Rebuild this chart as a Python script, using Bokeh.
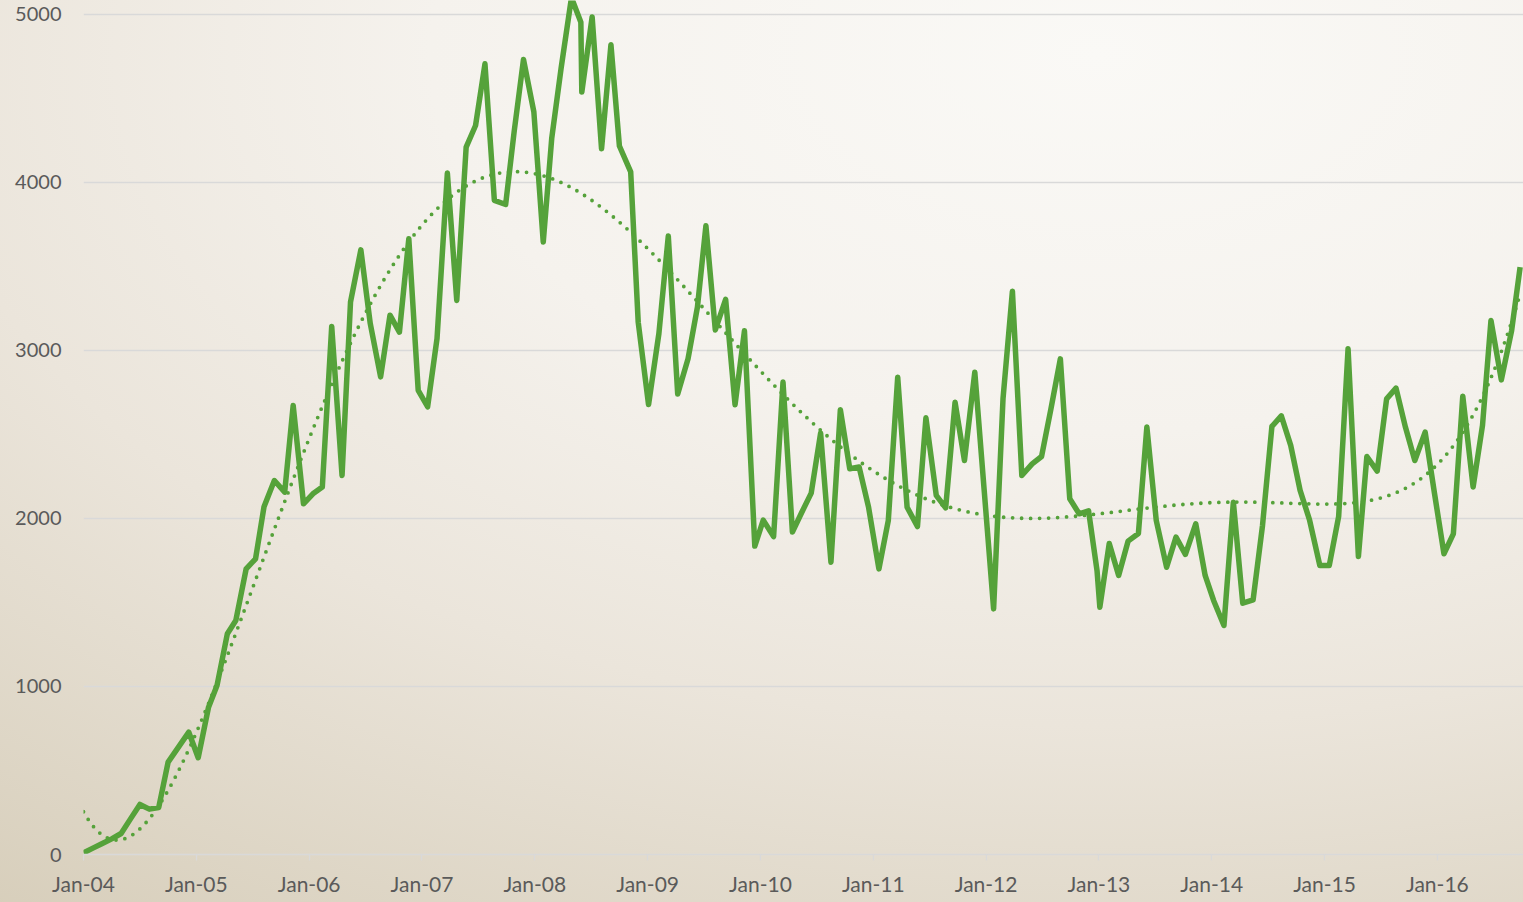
import numpy as np
from bokeh.plotting import figure
from bokeh.models import Range1d, FixedTicker
from bokeh.embed import file_html
from bokeh.resources import INLINE

# months since Jan-2004
months = [0, 1.0, 2.0, 3.0, 4.0, 5.0, 6.0, 7.0, 8.0, 9.0,
          10.1, 11.2, 12.2, 13.3, 14.2, 15.3, 16.2, 17.3, 18.3, 19.2,
          20.3, 21.4, 22.3, 23.4, 24.4, 25.4, 26.4, 27.5, 28.4, 29.5,
          30.5, 31.6, 32.6, 33.6, 34.6, 35.6, 36.6, 37.6, 38.7, 39.7,
          40.7, 41.7, 42.7, 43.7, 44.9, 45.8, 46.8, 47.9, 48.9, 49.8,
          50.8, 51.9, 52.9, 53.0, 54.1, 55.1, 56.1, 57.0, 58.2, 59.0,
          60.1, 61.2, 62.2, 63.2, 64.3, 65.3, 66.2, 67.2, 68.3, 69.3,
          70.3, 71.4, 72.3, 73.4, 74.4, 75.4, 76.4, 77.4, 78.4, 79.5,
          80.5, 81.5, 82.5, 83.5, 84.6, 85.6, 86.6, 87.6, 88.7, 89.6,
          90.7, 91.7, 92.7, 93.7, 94.8, 95.8, 96.8, 97.8, 98.8, 99.8,
          100.9, 101.9, 102.9, 103.9, 104.9, 105.9, 106.9, 107.8, 108.1, 109.1,
          110.1, 111.1, 112.2, 113.1, 114.1, 115.2, 116.2, 117.2, 118.3, 119.3,
          120.2, 121.3, 122.3, 123.3, 124.4, 125.4, 126.4, 127.4, 128.4, 129.4,
          130.4, 131.5, 132.5, 133.5, 134.5, 135.6, 136.5, 137.6, 138.6, 139.6,
          140.6, 141.6, 142.7, 143.7, 144.7, 145.7, 146.7, 147.8, 148.8, 149.7,
          150.8, 151.9, 152.8]

values = [10, 38, 65, 93, 125, 212, 298, 270, 280, 550,
          639, 728, 576, 877, 1006, 1314, 1393, 1700, 1760, 2070,
          2226, 2157, 2673, 2087, 2147, 2187, 3143, 2256, 3288, 3599,
          3160, 2843, 3210, 3109, 3665, 2762, 2665, 3070, 4056, 3298,
          4210, 4339, 4706, 3893, 3869, 4300, 4732, 4420, 3646, 4262,
          4680, 5100, 4954, 4538, 4985, 4200, 4820, 4217, 4063, 3168,
          2678, 3101, 3681, 2741, 2951, 3259, 3742, 3122, 3304, 2677,
          3117, 1836, 1990, 1892, 2812, 1919, 2037, 2151, 2508, 1740,
          2647, 2296, 2306, 2067, 1700, 1988, 2841, 2067, 1952, 2599,
          2137, 2063, 2692, 2345, 2871, 2167, 1462, 2712, 3353, 2256,
          2325, 2369, 2653, 2950, 2117, 2028, 2045, 1690, 1472, 1851,
          1661, 1865, 1911, 2544, 1988, 1710, 1889, 1786, 1968, 1661,
          1512, 1363, 2097, 1496, 1516, 1958, 2548, 2611, 2435, 2167,
          1992, 1720, 1720, 2012, 3010, 1774, 2369, 2282, 2712, 2776,
          2544, 2345, 2514, 2147, 1790, 1908, 2728, 2187, 2554, 3179,
          2825, 3119, 3496]

tick_months = [0, 12, 24, 36, 48, 60, 72, 84, 96, 108, 120, 132, 144]
tick_labels = ["Jan-04", "Jan-05", "Jan-06", "Jan-07", "Jan-08", "Jan-09", "Jan-10",
               "Jan-11", "Jan-12", "Jan-13", "Jan-14", "Jan-15", "Jan-16"]
y_ticks = [0, 1000, 2000, 3000, 4000, 5000]

GREEN = "#55a23a"
TEXT = "#5a5a5a"
GRID = "#d9d9d9"

bg = ("radial-gradient(ellipse 125% 120% at 72% 6%, #faf9f6 0%, #f5f2ed 35%, "
      "#ebe5db 62%, #d6cdb9 100%)")

p = figure(width=1523, height=902, output_backend="svg", toolbar_location=None,
           x_range=Range1d(0, 153.16), y_range=Range1d(0, 5083),
           min_border_left=83, min_border_right=0, min_border_top=0, min_border_bottom=48,
           styles={"background": bg})
p.background_fill_alpha = 0
p.border_fill_alpha = 0
p.outline_line_color = None

# polynomial (6th order) trend line of the series, as in the original
x = np.array(months, dtype=float)
coef = np.polyfit(x / 100.0, np.array(values, dtype=float), 6)
tx = np.linspace(0, months[-1], 400)
ty = np.polyval(coef, tx / 100.0)

p.line(months, values, line_color=GREEN, line_width=5.5, line_join="round")
p.line(tx, ty, line_color=GREEN, line_width=3.8, line_dash="0 9", line_cap="round")

p.xgrid.grid_line_color = None
p.ygrid.grid_line_color = GRID
p.ygrid.grid_line_width = 1.3

xa = p.xaxis[0]
xa.ticker = FixedTicker(ticks=tick_months)
xa.major_label_overrides = {m: lab for m, lab in zip(tick_months, tick_labels)}
xa.axis_line_color = GRID
xa.axis_line_width = 1.3
xa.major_tick_line_color = GRID
xa.major_tick_line_width = 1.3
xa.major_tick_out = 6
xa.major_tick_in = 0
xa.minor_tick_line_color = None
xa.major_label_standoff = 10
xa.major_label_text_font = "Lato"
xa.major_label_text_font_size = "21px"
xa.major_label_text_color = TEXT

ya = p.yaxis[0]
ya.ticker = FixedTicker(ticks=y_ticks)
ya.major_label_overrides = {t: str(t) for t in y_ticks}
ya.axis_line_color = None
ya.major_tick_line_color = None
ya.minor_tick_line_color = None
ya.major_tick_out = 0
ya.major_tick_in = 0
ya.major_label_standoff = 22
ya.major_label_text_font = "Lato"
ya.major_label_text_font_size = "20px"
ya.major_label_text_color = TEXT

open("out.html", "w").write(file_html(p, INLINE))
